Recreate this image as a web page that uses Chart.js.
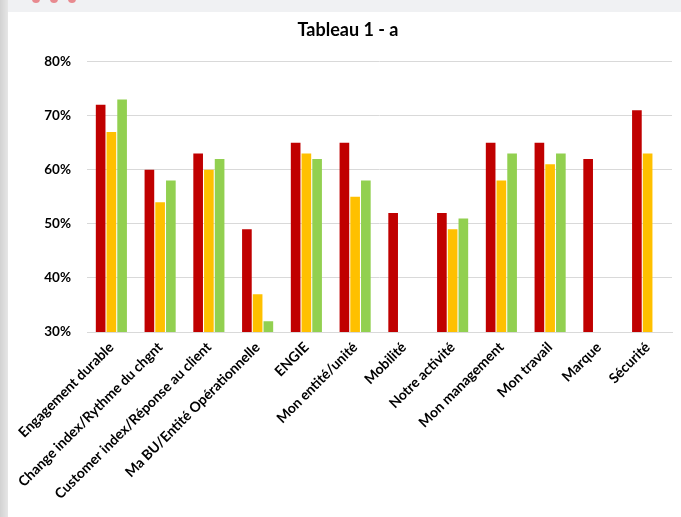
<!DOCTYPE html>
<html>
<head>
<meta charset="utf-8">
<script src="https://cdn.jsdelivr.net/npm/chart.js@4/dist/chart.umd.min.js"></script>
<style>
  html, body { margin: 0; padding: 0; background: #ffffff; }
  body { width: 681px; height: 517px; position: relative; overflow: hidden; }
  #sidebar { position: absolute; left: 0; top: 0; width: 8px; height: 517px;
             background: linear-gradient(to right, #d2d2d2, #e6e6e6); }
  #topbar { position: absolute; left: 8px; top: 0; width: 673px; height: 12px; background: #f0f1f3; }
  .dot { position: absolute; top: -5px; width: 8px; height: 8px; border-radius: 50%; background: #e88a8f; }
  #wrap { position: absolute; left: 8px; top: 12px; width: 673px; height: 505px; }
</style>
</head>
<body>
<div id="sidebar"></div>
<div id="topbar">
  <div class="dot" style="left:24px"></div>
  <div class="dot" style="left:42px"></div>
  <div class="dot" style="left:60px"></div>
</div>
<div id="wrap"><canvas id="c" width="673" height="505"></canvas></div>
<script>
// Survey themes (x axis)
const categories = [
  "Engagement durable",
  "Change index/Rythme du chgnt",
  "Customer index/Réponse au client",
  "Ma BU/Entité Opérationnelle",
  "ENGIE",
  "Mon entité/unité",
  "Mobilité",
  "Notre activité",
  "Mon management",
  "Mon travail",
  "Marque",
  "Sécurité"
];

// Favourable answers, in percent
const seriesRed    = [72, 60, 63, 49, 65, 65, 52, 52, 65, 65, 62, 71];
const seriesYellow = [67, 54, 60, 37, 63, 55, null, 49, 58, 61, null, 63];
const seriesGreen  = [73, 58, 62, 32, 62, 58, null, 51, 63, 63, null, null];

// Y axis range and tick labels
const yMin = 30;
const yMax = 80;
const yStep = 10;

const fontFamily = "Lato, 'Open Sans', sans-serif";

new Chart(document.getElementById("c"), {
  type: "bar",
  data: {
    labels: categories,
    datasets: [
      { label: "Série 1", data: seriesRed,    backgroundColor: "#C00000" },
      { label: "Série 2", data: seriesYellow, backgroundColor: "#FFC000" },
      { label: "Série 3", data: seriesGreen,  backgroundColor: "#92D050" }
    ]
  },
  options: {
    responsive: false,
    animation: false,
    layout: { padding: { left: 16, right: 9, top: 0, bottom: 0 } },
    datasets: { bar: { categoryPercentage: 0.66, barPercentage: 0.9 } },
    plugins: {
      legend: { display: false },
      tooltip: { enabled: false },
      title: {
        display: true,
        text: "Tableau 1 - a",
        color: "#000000",
        font: { family: fontFamily, weight: "bold", size: 18 },
        padding: { top: 7, bottom: 21 }
      }
    },
    scales: {
      x: {
        grid: { display: false, drawTicks: false },
        border: { display: true, color: "#d9d9d9", width: 1 },
        ticks: {
          color: "#000000",
          font: { family: fontFamily, weight: "bold", size: 14 },
          minRotation: 45,
          maxRotation: 45,
          autoSkip: false,
          padding: 7
        },
        afterFit: (scale) => { scale.height = 185; }
      },
      y: {
        min: yMin,
        max: yMax,
        grid: { color: "#d9d9d9", lineWidth: 1, drawTicks: false },
        border: { display: false },
        ticks: {
          stepSize: yStep,
          color: "#000000",
          font: { family: fontFamily, weight: "bold", size: 13.5 },
          padding: 16,
          callback: (v) => v + "%"
        },
        afterFit: (scale) => { scale.width = 63; }
      }
    }
  }
});
</script>
</body>
</html>
